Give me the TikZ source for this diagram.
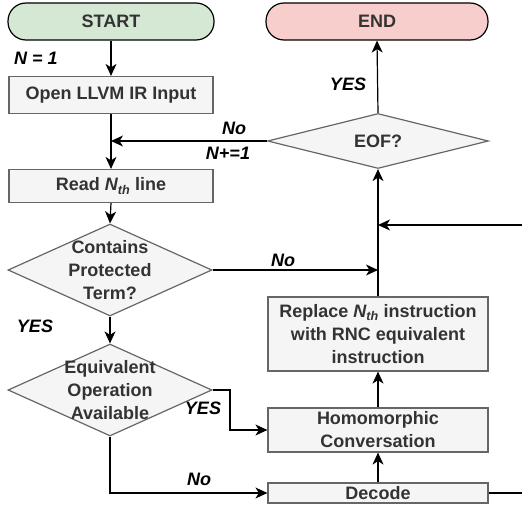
\documentclass[tikz,border=0pt]{standalone}
\usepackage{fontspec}
\setmainfont{Liberation Sans}
\usetikzlibrary{shapes.geometric,arrows.meta}
\definecolor{startfill}{HTML}{D5E8D4}
\definecolor{endfill}{HTML}{F8CECC}
\definecolor{boxfill}{HTML}{F5F5F5}
\definecolor{boxline}{HTML}{666666}
\definecolor{boxtext}{HTML}{333333}
\tikzset{
  every node/.style={font=\fontsize{18}{23}\selectfont\bfseries},
  term/.style={draw=black, line width=1.2pt, rounded corners=18pt, minimum height=37pt, inner sep=0pt, text=boxtext},
  procbox/.style={draw=boxline, fill=boxfill, line width=1.2pt, inner sep=0pt, text=boxtext, align=center},
  dia/.style={diamond, draw=boxline, fill=boxfill, line width=1.2pt, inner sep=0pt, aspect=2.2},
  diatext/.style={text=boxtext, align=center, inner sep=0pt},
  lbl/.style={font=\fontsize{18}{23}\selectfont\bfseries\itshape, text=black, inner sep=0pt},
  arr/.style={draw=black, line width=1.2pt, -{Stealth[length=12pt,width=11pt,inset=3.5pt]}},
  ln/.style={draw=black, line width=1.2pt},
}
\begin{document}
\begin{tikzpicture}[x=1pt,y=-1pt]
\useasboundingbox (0,0) rectangle (522,508);
\node[term, fill=startfill, minimum width=206pt] (start) at (111,21.5) {START};
\node[term, fill=endfill, minimum width=222pt] (end) at (377,21.5) {END};
\node[procbox, minimum width=204pt, minimum height=37pt] (open) at (111,95) {Open LLVM IR Input};
\node[procbox, minimum width=204pt, minimum height=33pt] (read) at (111,186) {Read \textit{N\textsubscript{th}} line};
\node[dia, minimum width=204pt, minimum height=92pt, label={[diatext]center:{Contains\\Protected\\Term?}}] (contains) at (110,270) {};
\node[dia, minimum width=204pt, minimum height=92pt, label={[diatext]center:{Equivalent\\Operation\\Available}}] (eq) at (110,390) {};
\node[dia, minimum width=221pt, minimum height=55pt, label={[diatext]center:{EOF?}}] (eof) at (378,141) {};
\node[procbox, minimum width=220pt, minimum height=74pt] (replace) at (378,334) {Replace \textit{N\textsubscript{th}} instruction\\with RNC equivalent\\instruction};
\node[procbox, minimum width=220pt, minimum height=44pt] (homo) at (378,430) {Homomorphic\\Conversation};
\node[procbox, minimum width=220pt, minimum height=20pt] (decode) at (378,493) {Decode};
\coordinate (rin) at (522,225);
\coordinate (rout) at (522,493);
\coordinate (yesbend) at (230,390);

\draw[arr] (start.south) -- (open.north);
\draw[arr] (open.south) -- (read.north);
\draw[arr] (read.south) -- (contains.north);
\draw[arr] (eof.west) -- (eof.west -| open.south);
\draw[arr] (contains.east) -- (contains.east -| replace.north);
\draw[arr] (contains.south) -- (eq.north);
\draw[arr] (eq.east) -- (yesbend) |- (homo.west);
\draw[arr] (eq.south) |- (decode.west);
\draw[arr] (decode.north) -- (homo.south);
\draw[arr] (homo.north) -- (replace.south);
\draw[arr] (replace.north) -- (eof.south);
\draw[arr] (rin) -- (rin -| replace.north);
\draw[ln] (decode.east) -- (rout);
\draw[arr] (eof.north) -- (end.south);

\node[lbl] (l1) at (36,58) {N = 1};
\node[lbl] (l2) at (234,128) {No};
\node[lbl] (l3) at (228,153) {N+=1};
\node[lbl] (l4) at (283,260) {No};
\node[lbl] (l5) at (35,326) {YES};
\node[lbl] (l6) at (203,408) {YES};
\node[lbl] (l7) at (199,479) {No};
\node[lbl] (l8) at (348,84) {YES};
\end{tikzpicture}
\end{document}
